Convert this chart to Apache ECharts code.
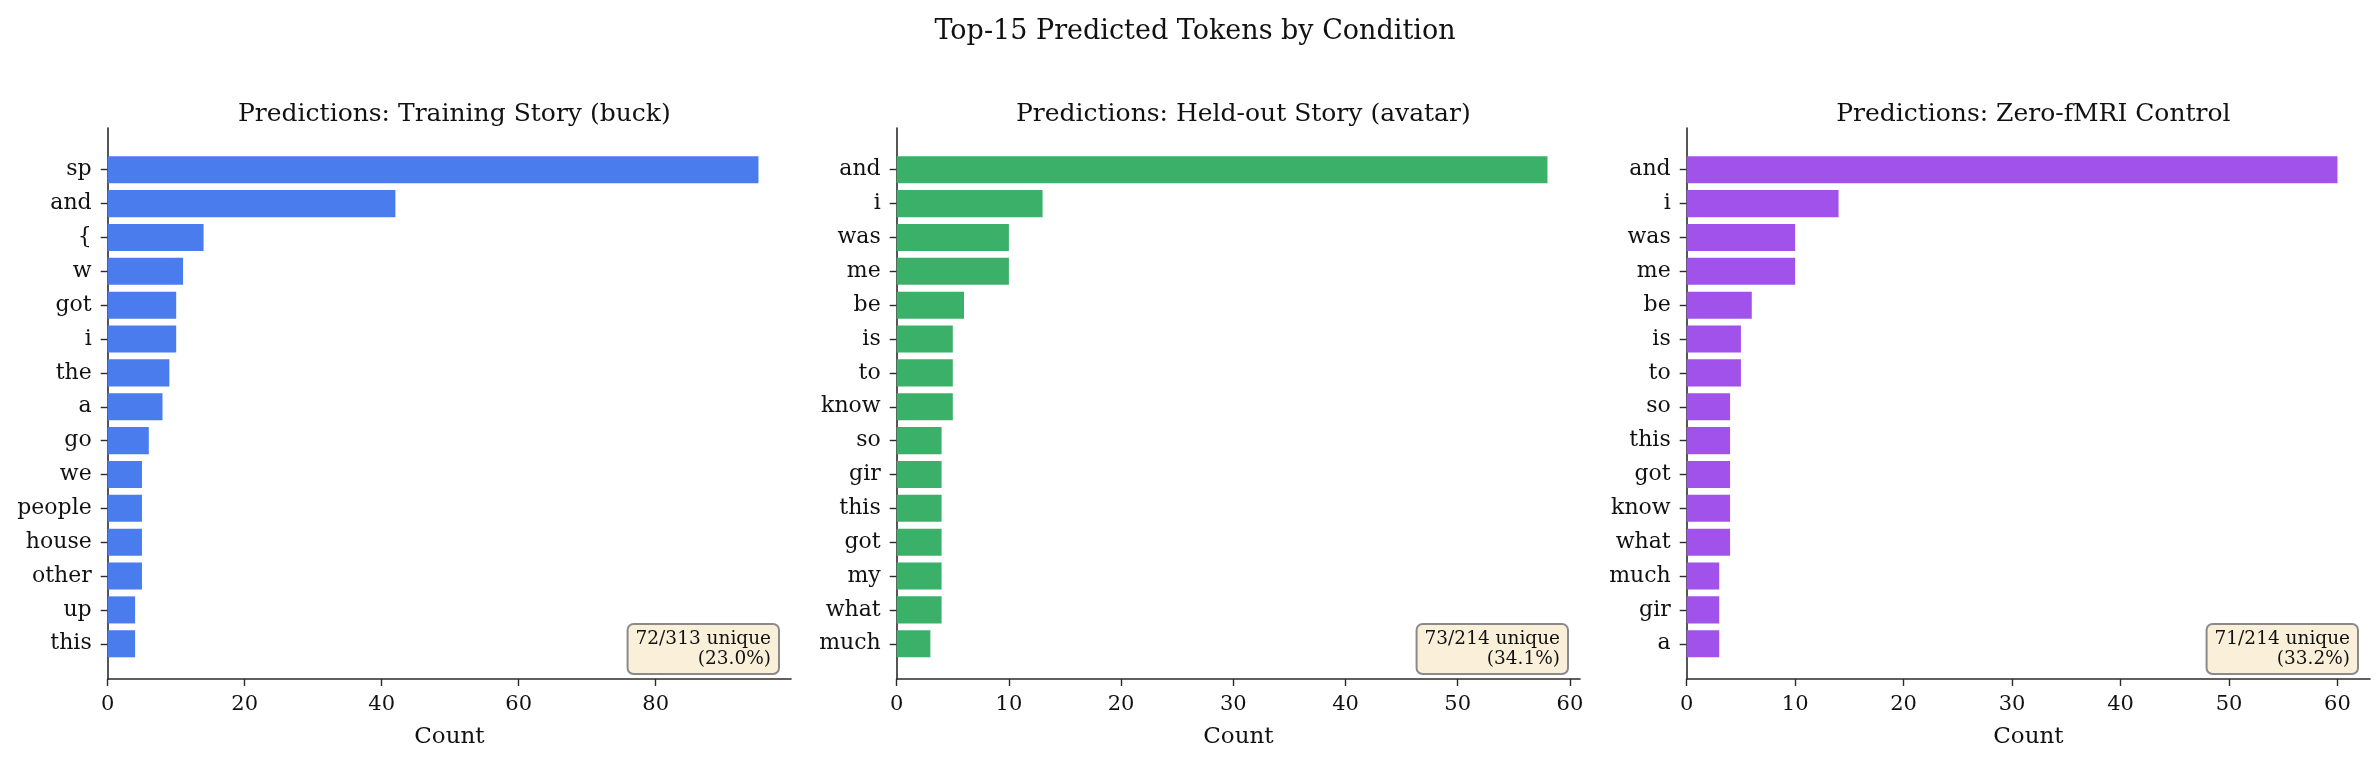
<!DOCTYPE html>
<html>
<head>
<meta charset="utf-8">
<title>Top-15 Predicted Tokens by Condition</title>
<script src="https://cdn.jsdelivr.net/npm/echarts@6/dist/echarts.min.js"></script>
<style>
  html, body { margin: 0; padding: 0; background: #fff; }
  #chart { width: 2380px; height: 762px; }
</style>
</head>
<body>
<div id="chart"></div>
<script>
// --- data ---
const trainTokens = ['sp', 'and', '{', 'w', 'got', 'i', 'the', 'a', 'go', 'we', 'people', 'house', 'other', 'up', 'this']
const trainCounts = [95, 42, 14, 11, 10, 10, 9, 8, 6, 5, 5, 5, 5, 4, 4]
const heldTokens = ['and', 'i', 'was', 'me', 'be', 'is', 'to', 'know', 'so', 'gir', 'this', 'got', 'my', 'what', 'much']
const heldCounts = [58, 13, 10, 10, 6, 5, 5, 5, 4, 4, 4, 4, 4, 4, 3]
const zeroTokens = ['and', 'i', 'was', 'me', 'be', 'is', 'to', 'so', 'this', 'got', 'know', 'what', 'much', 'gir', 'a']
const zeroCounts = [60, 14, 10, 10, 6, 5, 5, 4, 4, 4, 4, 4, 3, 3, 3]

const trainTicks = [0, 20, 40, 60, 80]
const heldTicks = [0, 10, 20, 30, 40, 50, 60]
const zeroTicks = [0, 10, 20, 30, 40, 50, 60]

const panelTitles = [
  'Predictions: Training Story (buck)',
  'Predictions: Held-out Story (avatar)',
  'Predictions: Zero-fMRI Control'
]
const uniqueNotes = ['72/313 unique\n(23.0%)', '73/214 unique\n(34.1%)', '71/214 unique\n(33.2%)']

const FONT = '"DejaVu Serif", "Liberation Serif", serif'
const AXIS = '#2b2b2b'

const panels = [
  { tokens: trainTokens, counts: trainCounts, ticks: trainTicks, color: '#4a7cee', left: 107.7 },
  { tokens: heldTokens, counts: heldCounts, ticks: heldTicks, color: '#3bb068', left: 896.7 },
  { tokens: zeroTokens, counts: zeroCounts, ticks: zeroTicks, color: '#a052ea', left: 1686.7 }
]
const plotW = 683.3

const grid = []
const xAxis = []
const yAxis = []
const series = []
const title = [{
  text: 'Top-15 Predicted Tokens by Condition',
  left: 1190, top: 13, textAlign: 'center',
  textStyle: { fontFamily: FONT, fontSize: 27, fontWeight: 'normal', color: '#111' }
}]
const graphic = []

panels.forEach((p, i) => {
  // matplotlib-style xlim: max * 1.05
  const xMax = Math.max(...p.counts) * 1.05

  // frame grid: spines, x ticks
  grid.push({ left: p.left, top: 128, width: plotW, height: 551 })
  // bar grid: category bands
  grid.push({ left: p.left, top: 152.8, width: plotW, height: 507.9 })

  xAxis.push({
    gridIndex: 2 * i, type: 'value', min: 0, max: xMax,
    axisLine: { show: true, lineStyle: { color: AXIS, width: 1.6 } },
    axisTick: { show: true, length: 7, customValues: p.ticks, lineStyle: { color: AXIS, width: 1.4 } },
    axisLabel: { customValues: p.ticks, fontFamily: FONT, fontSize: 21, color: '#111', margin: 15 },
    splitLine: { show: false },
    name: 'Count', nameLocation: 'middle', nameGap: 47,
    nameTextStyle: { fontFamily: FONT, fontSize: 23, color: '#111' }
  })
  xAxis.push({ gridIndex: 2 * i + 1, type: 'value', min: 0, max: xMax, show: false })

  yAxis.push({
    gridIndex: 2 * i, type: 'value', min: 0, max: 1,
    axisLine: { show: true, lineStyle: { color: AXIS, width: 1.6 } },
    axisTick: { show: false }, axisLabel: { show: false }, splitLine: { show: false }
  })
  yAxis.push({
    gridIndex: 2 * i + 1, type: 'category', data: p.tokens, inverse: true,
    axisLine: { show: false },
    axisTick: { show: true, alignWithLabel: true, length: 7, lineStyle: { color: AXIS, width: 1.4 } },
    axisLabel: { fontFamily: FONT, fontSize: 22, color: '#111', margin: 16, interval: 0 },
    splitLine: { show: false }
  })

  series.push({
    type: 'bar', xAxisIndex: 2 * i + 1, yAxisIndex: 2 * i + 1,
    data: p.counts, barWidth: '80%',
    itemStyle: { color: p.color },
    silent: true
  })

  title.push({
    text: panelTitles[i],
    left: p.left + plotW / 2, top: 97, textAlign: 'center',
    textStyle: { fontFamily: FONT, fontSize: 25, fontWeight: 'normal', color: '#111' }
  })

  graphic.push({
    type: 'text', x: p.left + plotW - 13, y: 625, z: 100,
    style: {
      text: uniqueNotes[i], font: '18.5px ' + FONT, fill: '#111',
      align: 'right', verticalAlign: 'top', lineHeight: 20,
      backgroundColor: '#faefd9', borderColor: '#8a8a8a', borderWidth: 2,
      borderRadius: 5, padding: [4, 7, 4, 7]
    }
  })
})

const chart = echarts.init(document.getElementById('chart'))
chart.setOption({
  backgroundColor: '#fff',
  animation: false,
  title, grid, xAxis, yAxis, series, graphic
})
window.addEventListener('resize', chart.resize)
</script>
</body>
</html>
